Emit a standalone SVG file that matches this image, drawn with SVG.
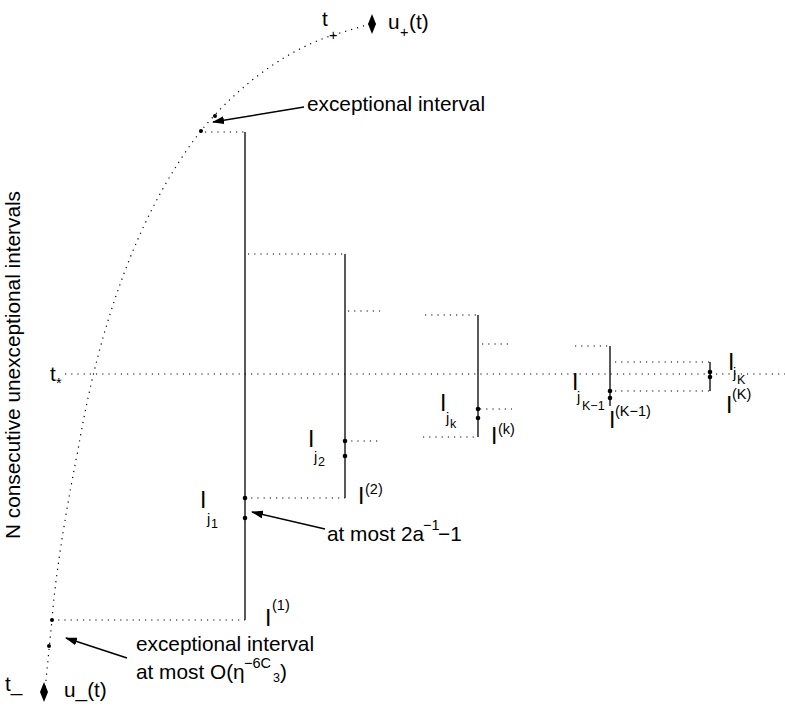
<svg xmlns="http://www.w3.org/2000/svg" width="785" height="712" viewBox="0 0 785 712">
<style>
text{font-family:"Liberation Sans",Arial,sans-serif;font-size:20.8px;fill:#000}
.s{font-size:14.5px}
.ss{font-size:12.5px}
.I{font-size:23px}
.d{stroke:#000;stroke-width:1.2;stroke-dasharray:1.2 5;fill:none}
.v{stroke:#000;stroke-width:1.3}
.a{stroke:#000;stroke-width:1.5}
</style>
<defs><marker id="ah" markerWidth="12" markerHeight="8" refX="11" refY="4" orient="auto" markerUnits="userSpaceOnUse"><path d="M0,0L12,4L0,8z"/></marker></defs>
<rect width="785" height="712" fill="#fff"/>
<g id="curve">
<path class="d" d="M370,24 L340,33 C280,50 230,95 200,132 C140,210 100,320 78,450 C64,520 55,580 52,620 L45,690"/>
<path class="d" d="M65,374 H785"/>
<path d="M372,14 L376,24 L372,34 L368,24z"/>
<path d="M44,682 L48,692 L44,702 L40,692z"/>
<circle cx="215" cy="116" r="2"/><circle cx="201" cy="131" r="2"/>
<circle cx="52" cy="620" r="2"/><circle cx="49" cy="646" r="2"/>
</g>
<g id="connectors">
<path class="d" d="M205,132H245M52,620H245M245,498H345M248,254H345M348,311H380M345,441H382M425,315H478M482,344H512M480,409H512M423,437H478M575,346H610M615,362H710M615,391H710"/>
<line class="v" x1="245" y1="132" x2="245" y2="620"/>
<line class="v" x1="345" y1="254" x2="345" y2="498"/>
<line class="v" x1="478" y1="315" x2="478" y2="437"/>
<line class="v" x1="610" y1="346" x2="610" y2="406"/>
<line class="v" x1="710" y1="362" x2="710" y2="391"/>
<g fill="#000"><circle cx="245" cy="498" r="2.3"/><circle cx="245" cy="518" r="2.3"/><circle cx="345" cy="441" r="2.3"/><circle cx="345" cy="456" r="2.3"/><circle cx="478" cy="409" r="2.3"/><circle cx="478" cy="418" r="2.3"/><circle cx="610" cy="391" r="2.3"/><circle cx="610" cy="398" r="2.3"/><circle cx="710" cy="372" r="2.3"/><circle cx="710" cy="377" r="2.3"/></g>
<line class="a" x1="304" y1="107" x2="213" y2="122" marker-end="url(#ah)"/>
<line class="a" x1="325" y1="529" x2="252" y2="512" marker-end="url(#ah)"/>
<line class="a" x1="127" y1="658" x2="66" y2="638" marker-end="url(#ah)"/>
</g>
<g id="labels">
<text x="322" y="26">t</text><text class="s" x="329" y="40">+</text>
<text x="388" y="29">u</text><text class="s" x="400" y="37">+</text><text x="409" y="29">(t)</text>
<text x="307" y="111">exceptional interval</text>
<text x="50" y="381">t</text><text class="s" x="56" y="388">*</text>
<text transform="translate(20,365) rotate(-90)" text-anchor="middle">N consecutive unexceptional intervals</text>
<text class="I" x="200" y="508">I</text><text class="s" x="207" y="524">j</text><text class="ss" x="211" y="528">1</text>
<text x="327" y="541">at most 2a</text><text class="s" x="423" y="530">−1</text><text x="438" y="541">−1</text>
<text class="I" x="265" y="626">I</text><text class="s" x="272" y="610">(1)</text>
<text class="I" x="308" y="447">I</text><text class="s" x="314" y="462">j</text><text class="ss" x="318" y="466">2</text>
<text class="I" x="358" y="504">I</text><text class="s" x="365" y="494">(2)</text>
<text class="I" x="440" y="411">I</text><text class="s" x="446" y="423">j</text><text class="ss" x="450" y="428">k</text>
<text class="I" x="491" y="444">I</text><text class="s" x="498" y="434">(k)</text>
<text class="I" x="572" y="390">I</text><text class="s" x="577" y="402">j</text><text class="ss" x="582" y="410">K−1</text>
<text class="I" x="609" y="428">I</text><text class="s" x="615" y="416">(K−1)</text>
<text class="I" x="728" y="370">I</text><text class="s" x="733" y="378">j</text><text class="ss" x="737" y="384">K</text>
<text class="I" x="726" y="413">I</text><text class="s" x="732" y="399">(K)</text>
<text x="136" y="651">exceptional interval</text>
<text x="136" y="679">at most O(η</text><text class="s" x="244" y="668">−6C</text><text class="ss" x="273" y="682">3</text><text x="280" y="679">)</text>
<text x="5" y="691">t_</text>
<text x="64" y="697">u_(t)</text>
</g>
</svg>
